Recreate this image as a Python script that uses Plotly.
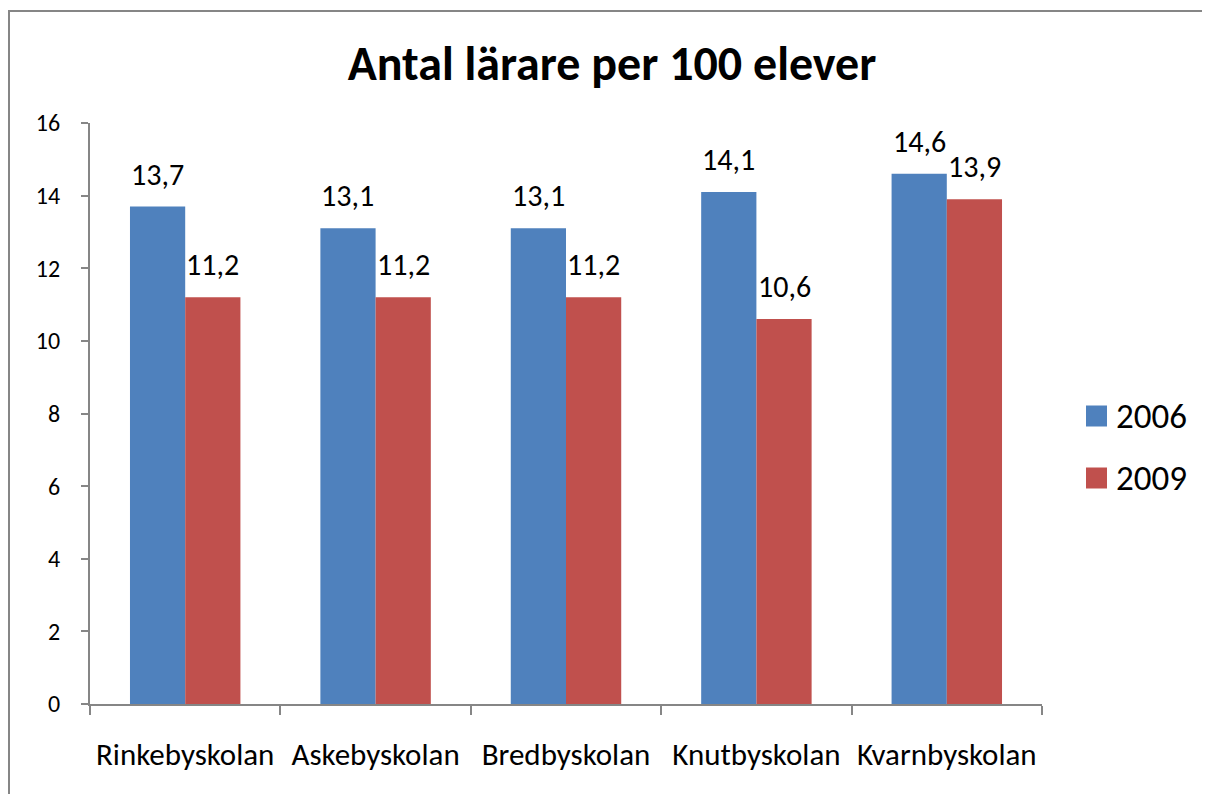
import plotly.graph_objects as go

categories = ["Rinkebyskolan", "Askebyskolan", "Bredbyskolan", "Knutbyskolan", "Kvarnbyskolan"]
series_names = ["2006", "2009"]
values_2006 = [13.7, 13.1, 13.1, 14.1, 14.6]
values_2009 = [11.2, 11.2, 11.2, 10.6, 13.9]
y_ticks = [0, 2, 4, 6, 8, 10, 12, 14, 16]
title_text = "Antal lärare per 100 elever"

# page renders figure with an 8px body offset
OFF = 8
W, H = 1210 - OFF, 794 - OFF
ML, MT = 90 - OFF, 123 - OFF
MR = W - (1042 - OFF)
MB = H - (704 - OFF)
PW, PH = W - ML - MR, H - MT - MB


def px_x(px):
    return (px - OFF - ML) / PW


def px_y(py):
    return (H - MB - (py - OFF)) / PH


FONT = "Carlito, Lato, sans-serif"
colors = ["#4F81BD", "#C0504D"]
AX = "#868686"

fig = go.Figure()
for name, vals, col in zip(series_names, [values_2006, values_2009], colors):
    fig.add_trace(go.Bar(x=categories, y=vals, name=name, marker=dict(color=col, line=dict(width=0)),
                         showlegend=False, hoverinfo="x+y"))

# data labels
cat_w = PW / len(categories)
bar_w = cat_w * (1 - 0.42) / 2
for si, vals in enumerate([values_2006, values_2009]):
    off = (-0.5 + si) * bar_w
    for c, v in zip(categories, vals):
        fig.add_annotation(x=c, y=v, xref="x", yref="y", text=f"{v:.1f}".replace(".", ","),
                           showarrow=False, xshift=off, yshift=12, yanchor="bottom",
                           font=dict(family=FONT, size=30, color="black"))

# manual legend
leg_y = [416, 478]
sq = 21
for name, col, py in zip(series_names, colors, leg_y):
    fig.add_shape(type="rect", xref="paper", yref="paper", x0=px_x(1086), x1=px_x(1086 + sq),
                  y0=px_y(py + sq / 2), y1=px_y(py - sq / 2),
                  fillcolor=col, line=dict(width=0))
    fig.add_annotation(xref="paper", yref="paper", x=px_x(1114), y=px_y(py),
                       xanchor="left", yanchor="middle", text=name, showarrow=False,
                       font=dict(family=FONT, size=35, color="black"))

# chart border (top and left visible)
fig.add_shape(type="rect", xref="paper", yref="paper",
              x0=px_x(9), x1=px_x(1240), y0=px_y(830), y1=px_y(11),
              line=dict(color=AX, width=2), fillcolor="rgba(0,0,0,0)", layer="below")

fig.update_layout(
    width=W, height=H,
    margin=dict(l=ML, r=MR, t=MT, b=MB),
    paper_bgcolor="white", plot_bgcolor="white",
    barmode="group", bargap=0.42, bargroupgap=0,
    title=dict(text=f"<b>{title_text}</b>", x=(612 - OFF) / W, xanchor="center", xref="container",
               y=1 - (63 - OFF) / H, yanchor="middle", yref="container",
               font=dict(family=FONT, size=48, color="black")),
    font=dict(family=FONT, color="black"),
    xaxis=dict(showline=True, linecolor=AX, linewidth=2, ticks="outside", tickson="boundaries",
               ticklen=9, tickcolor=AX, tickwidth=2, tickfont=dict(size=31, family=FONT, color="black"),
               ticklabelstandoff=22, showgrid=False, zeroline=False),
    yaxis=dict(range=[0, 16], tickvals=y_ticks, showline=True, linecolor=AX, linewidth=2,
               ticks="outside", ticklen=7, tickcolor=AX, tickwidth=2,
               tickfont=dict(size=24, family=FONT, color="black"), ticklabelstandoff=16,
               showgrid=False, zeroline=False),
)

fig.write_html("out.html")
